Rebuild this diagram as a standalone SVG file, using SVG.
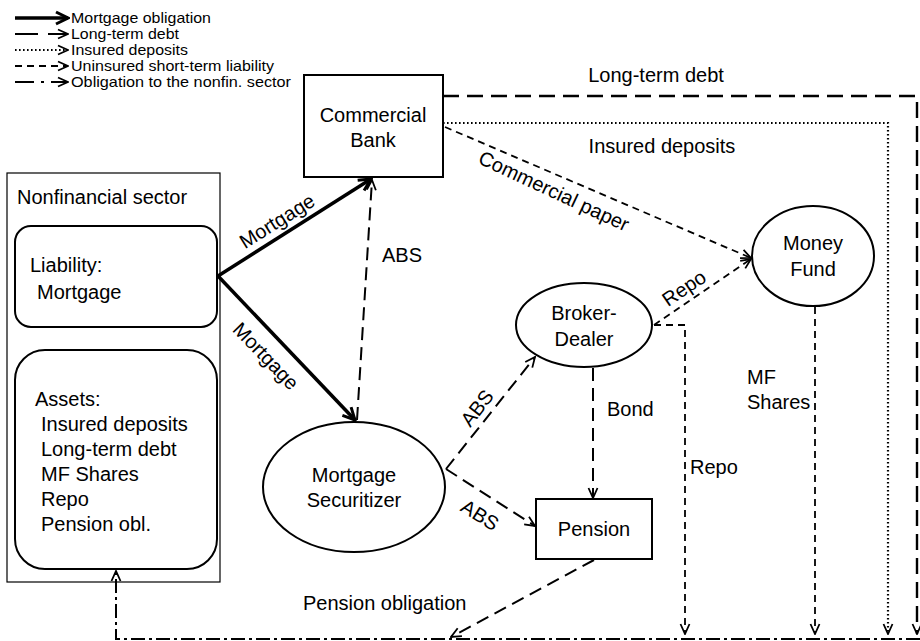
<svg xmlns="http://www.w3.org/2000/svg" width="920" height="641" viewBox="0 0 920 641">
<style>
text{font-family:"Liberation Sans",Arial,sans-serif;fill:#000}
.lg{font-size:14.3px}
.lb{font-size:20px}
.node{fill:#fff;stroke:#000;stroke-width:2}
.mort{fill:none;stroke:#000;stroke-width:3.5}
.ltd{fill:none;stroke:#000;stroke-width:2.4;stroke-dasharray:16 8}
.ld{fill:none;stroke:#000;stroke-width:2;stroke-dasharray:13 7}
.dot{fill:none;stroke:#000;stroke-width:2.2;stroke-dasharray:1.6 2.4}
.sd{fill:none;stroke:#000;stroke-width:1.8;stroke-dasharray:7 5}
.dd{fill:none;stroke:#000;stroke-width:2;stroke-dasharray:14 4 3 4}
</style>
<defs>
<marker id="ah" viewBox="0 0 12 12" refX="11" refY="6" markerWidth="12" markerHeight="12" markerUnits="userSpaceOnUse" orient="auto"><path d="M1,1.5 L11,6 L1,10.5" fill="none" stroke="#000" stroke-width="1.8"/></marker>
<marker id="ahm" viewBox="0 0 16 16" refX="14" refY="8" markerWidth="16" markerHeight="16" markerUnits="userSpaceOnUse" orient="auto"><path d="M2,2 L14,8 L2,14" fill="none" stroke="#000" stroke-width="3"/></marker>
</defs>

<g id="legend">
<path class="mort" d="M15,18 H68" marker-end="url(#ahm)"/>
<text class="lg" x="71" y="23" textLength="140" lengthAdjust="spacingAndGlyphs">Mortgage obligation</text>
<path d="M15,34 H38 M48,34 H68" fill="none" stroke="#000" stroke-width="2.2" marker-end="url(#ah)"/>
<text class="lg" x="71" y="39" textLength="108" lengthAdjust="spacingAndGlyphs">Long-term debt</text>
<path class="dot" d="M15,50 H68" marker-end="url(#ah)"/>
<text class="lg" x="71" y="55" textLength="117" lengthAdjust="spacingAndGlyphs">Insured deposits</text>
<path class="sd" d="M15,66 H68" marker-end="url(#ah)"/>
<text class="lg" x="71" y="71" textLength="203" lengthAdjust="spacingAndGlyphs">Uninsured short-term liability</text>
<path d="M15,82 H34 M41,82 H44 M51,82 H68" fill="none" stroke="#000" stroke-width="2" marker-end="url(#ah)"/>
<text class="lg" x="71" y="87" textLength="220" lengthAdjust="spacingAndGlyphs">Obligation to the nonfin. sector</text>
</g>

<g id="nonfinancial">
<rect x="7" y="173" width="213" height="409" fill="#fff" stroke="#000" stroke-width="1.2"/>
<text class="lb" x="17" y="204">Nonfinancial sector</text>
<g id="liability">
<rect class="node" x="15" y="226" width="202" height="101" rx="16"/>
<text class="lb" x="30" y="272">Liability:</text>
<text class="lb" x="37" y="299">Mortgage</text>
</g>
<g id="assets">
<rect class="node" x="15" y="350" width="202" height="219" rx="30"/>
<text class="lb" x="35" y="406">Assets:</text>
<text class="lb" x="41" y="431">Insured deposits</text>
<text class="lb" x="41" y="456">Long-term debt</text>
<text class="lb" x="41" y="481">MF Shares</text>
<text class="lb" x="41" y="506">Repo</text>
<text class="lb" x="41" y="531">Pension obl.</text>
</g>
</g>

<g id="bank">
<rect class="node" x="304" y="75" width="139" height="102"/>
<text class="lb" x="373" y="122" text-anchor="middle">Commercial</text>
<text class="lb" x="373" y="147" text-anchor="middle">Bank</text>
</g>

<g id="securitizer">
<ellipse class="node" cx="354" cy="487" rx="91" ry="65"/>
<text class="lb" x="354" y="482" text-anchor="middle">Mortgage</text>
<text class="lb" x="354" y="507" text-anchor="middle">Securitizer</text>
</g>

<g id="broker">
<ellipse class="node" cx="584" cy="325" rx="68" ry="42"/>
<text class="lb" x="584" y="320" text-anchor="middle">Broker-</text>
<text class="lb" x="584" y="346" text-anchor="middle">Dealer</text>
</g>

<g id="moneyfund">
<ellipse class="node" cx="813" cy="256" rx="61" ry="50"/>
<text class="lb" x="813" y="250" text-anchor="middle">Money</text>
<text class="lb" x="813" y="276" text-anchor="middle">Fund</text>
</g>

<g id="pension">
<rect class="node" x="536" y="499" width="116" height="60"/>
<text class="lb" x="594" y="536" text-anchor="middle">Pension</text>
</g>

<g id="connectors">
<path class="mort" d="M218,276 L371,179" marker-end="url(#ahm)"/>
<path class="mort" d="M218,276 L355,420" marker-end="url(#ahm)"/>
<path class="ld" d="M357,420 L372,180" marker-end="url(#ah)"/>
<path class="ltd" d="M443,96 H917 V634" marker-end="url(#ah)"/>
<path class="dot" d="M443,123 H888 V634" marker-end="url(#ah)"/>
<path class="sd" d="M445,127 L751,258" marker-end="url(#ah)"/>
<path class="sd" d="M654,325 L751,259" marker-end="url(#ah)"/>
<path class="sd" d="M654,325 H685 V634" marker-end="url(#ah)"/>
<path class="sd" d="M815,307 V634" marker-end="url(#ah)"/>
<path class="ld" d="M593,368 V498" marker-end="url(#ah)"/>
<path class="ld" d="M446,469 L535,357" marker-end="url(#ah)"/>
<path class="ld" d="M446,469 L535,526" marker-end="url(#ah)"/>
<path class="ld" d="M594,560 L451,637" marker-end="url(#ah)"/>
<path class="dd" d="M920,639 H116 V571" marker-end="url(#ah)"/>
</g>

<g id="labels">
<text class="lb" transform="translate(277,221) rotate(-32)" x="0" y="7" text-anchor="middle">Mortgage</text>
<text class="lb" transform="translate(266,356) rotate(46)" x="0" y="7" text-anchor="middle">Mortgage</text>
<text class="lb" x="382" y="262">ABS</text>
<text class="lb" x="656" y="82" text-anchor="middle">Long-term debt</text>
<text class="lb" x="662" y="153" text-anchor="middle">Insured deposits</text>
<text class="lb" transform="translate(554,191) rotate(25)" x="0" y="7" text-anchor="middle">Commercial paper</text>
<text class="lb" transform="translate(684,288) rotate(-34)" x="0" y="7" text-anchor="middle">Repo</text>
<text class="lb" x="690" y="474">Repo</text>
<text class="lb" x="747" y="384">MF</text>
<text class="lb" x="747" y="409">Shares</text>
<text class="lb" x="607" y="416">Bond</text>
<text class="lb" transform="translate(477,408) rotate(-52)" x="0" y="7" text-anchor="middle">ABS</text>
<text class="lb" transform="translate(480,515) rotate(32)" x="0" y="7" text-anchor="middle">ABS</text>
<text class="lb" x="303" y="610">Pension obligation</text>
</g>
</svg>
